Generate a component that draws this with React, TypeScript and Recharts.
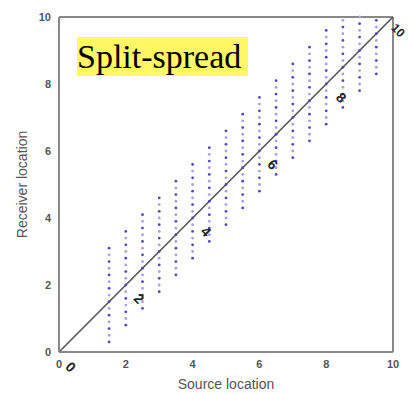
import React from 'react';
import { ScatterChart, Scatter, XAxis, YAxis, ReferenceLine, ReferenceDot } from 'recharts';

const sources = [1.5, 2, 2.5, 3, 3.5, 4, 4.5, 5, 5.5, 6, 6.5, 7, 7.5, 8, 8.5, 9, 9.5];
const receiverOffsets = [-1.2, -1.0, -0.8, -0.6, -0.4, -0.2, 0, 0.2, 0.4, 0.6, 0.8, 1.0, 1.2, 1.4, 1.6];
const axisTicks = [0, 2, 4, 6, 8, 10];
const shotLabels = ['0', '2', '4', '6', '8', '10'];
const shotX = [0.35, 2.4, 4.4, 6.4, 8.45, 10.15];
const shotY = [-0.45, 1.6, 3.6, 5.6, 7.6, 9.6];

const darkDots: { x: number; y: number }[] = [];
const lightDots: { x: number; y: number }[] = [];
sources.forEach((s) => {
  receiverOffsets.forEach((o, i) => {
    const r = Math.round((s + o) * 100) / 100;
    if (r < 0 || r > 10) return;
    (i % 2 === 0 ? darkDots : lightDots).push({ x: s, y: r });
  });
});

const tickStyle = { fontFamily: 'Liberation Sans, Arial, sans-serif', fontSize: 11, fontWeight: 700, fill: '#555' };

const dotShape = (color: string) => (p: any) => <circle cx={p.cx} cy={p.cy} r={1.4} fill={color} />;

export default function App() {
  return (
    <div style={{ position: 'absolute', left: 0, top: 0, width: 409, height: 394, background: '#fff' }}>
      <ScatterChart width={409} height={394} margin={{ top: 17, right: 16, bottom: 0, left: 19 }}>
        <XAxis
          xAxisId="b"
          type="number"
          dataKey="x"
          domain={[0, 10]}
          ticks={axisTicks}
          height={42}
          tickLine={false}
          axisLine={{ stroke: '#888', strokeWidth: 2 }}
          tick={tickStyle}
          label={{ value: 'Source location', position: 'insideBottom', offset: 5, style: { fontFamily: 'Liberation Sans, Arial, sans-serif', fontSize: 14, fill: '#555' } }}
        />
        <YAxis
          yAxisId="l"
          type="number"
          dataKey="y"
          domain={[0, 10]}
          ticks={axisTicks}
          width={40}
          tickLine={false}
          axisLine={{ stroke: '#888', strokeWidth: 2 }}
          tick={tickStyle}
          label={{ value: 'Receiver location', angle: -90, position: 'insideLeft', offset: 3, style: { textAnchor: 'middle', fontFamily: 'Liberation Sans, Arial, sans-serif', fontSize: 14, fill: '#555' } }}
        />
        <ReferenceLine xAxisId="b" yAxisId="l" y={10} stroke="#888" strokeWidth={2} ifOverflow="visible" />
        <ReferenceLine xAxisId="b" yAxisId="l" x={10} stroke="#888" strokeWidth={2} ifOverflow="visible" />
        <Scatter xAxisId="b" yAxisId="l" data={lightDots} shape={dotShape('#a89fdc')} isAnimationActive={false} />
        <Scatter xAxisId="b" yAxisId="l" data={darkDots} shape={dotShape('#5048bc')} isAnimationActive={false} />
        <ReferenceLine
          xAxisId="b"
          yAxisId="l"
          segment={[{ x: 0, y: 0 }, { x: 10, y: 10 }]}
          stroke="#555"
          strokeWidth={1.6}
          ifOverflow="visible"
        />
        {shotLabels.map((t, i) => (
          <ReferenceDot
            key={t}
            xAxisId="b"
            yAxisId="l"
            x={shotX[i]}
            y={shotY[i]}
            ifOverflow="visible"
            shape={(p: any) => (
              <text
                x={p.cx}
                y={p.cy}
                transform={`rotate(45 ${p.cx} ${p.cy})`}
                textAnchor="middle"
                dominantBaseline="central"
                fontFamily="Liberation Sans, Arial, sans-serif"
                fontSize={t.length > 1 ? 12 : 14}
                fontWeight={700}
                fill="#222"
              >
                {t}
              </text>
            )}
          />
        ))}
      </ScatterChart>
      <div
        style={{
          position: 'absolute',
          left: 77,
          top: 37,
          width: 171,
          height: 39,
          background: '#fff764',
          fontFamily: '"Liberation Serif", "Times New Roman", serif',
          fontSize: 34,
          lineHeight: '39px',
          color: '#000',
          whiteSpace: 'nowrap',
          overflow: 'visible',
        }}
      >
        Split-spread
      </div>
    </div>
  );
}
